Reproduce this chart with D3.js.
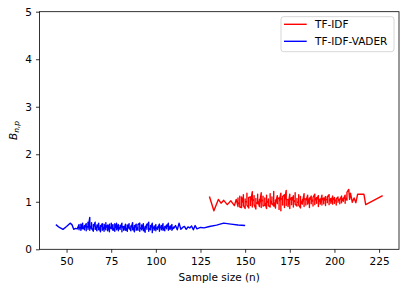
<!DOCTYPE html>
<html>
<head>
<meta charset="utf-8">
<script src="https://cdn.jsdelivr.net/npm/d3@7"></script>
<style>
  body { margin: 0; background: #fff; }
  svg { display: block; }
  text { font-family: "DejaVu Sans", sans-serif; }
</style>
</head>
<body>
<svg></svg>
<script>
const vaderN = [44, 46, 48, 50, 52, 53, 54, 55, 56,
  57, 57, 57, 58, 58, 58, 59, 59, 59, 60, 60, 60, 61, 61, 61, 62, 62, 62, 63, 63, 63,
  64, 64, 64, 65, 65, 65, 66, 66, 66, 67, 67, 67, 68, 68, 68, 69, 69, 69, 70, 70, 70,
  71, 71, 71, 72, 72, 72, 73, 73, 73, 74, 74, 74, 75, 75, 75, 76, 76, 76, 77, 77, 77,
  78, 78, 78, 79, 79, 79, 80, 80, 80, 81, 81, 81, 82, 82, 82, 83, 83, 83, 84, 84, 84,
  85, 85, 85, 86, 86, 86, 87, 87, 87, 88, 88, 88, 89, 89, 89, 90, 90, 90, 91, 91, 91,
  92, 92, 92, 93, 93, 93, 94, 94, 94, 95, 95, 95, 96, 96, 96, 97, 97, 97, 98, 98, 98,
  99, 99, 99, 100, 100, 100, 101, 101, 101, 102, 102, 102, 103, 103, 103, 104, 104, 104,
  105, 105, 105, 106, 106, 106,
  107, 107, 108, 108, 109, 109, 110, 110, 111, 112, 113, 114, 115, 116, 117, 118, 119,
  120, 121, 122, 123, 125, 127, 130, 134, 138, 142, 146, 150];
const vaderB = [0.52, 0.46, 0.42, 0.48, 0.55, 0.52, 0.42, 0.44, 0.43,
  0.52, 0.41, 0.47, 0.44, 0.53, 0.40, 0.55, 0.43, 0.49, 0.41, 0.50, 0.45, 0.54, 0.39, 0.48, 0.46, 0.57, 0.42, 0.67, 0.40, 0.50,
  0.43, 0.56, 0.45, 0.38, 0.52, 0.47, 0.57, 0.42, 0.49, 0.39, 0.51, 0.44, 0.55, 0.41, 0.48, 0.37, 0.50, 0.46, 0.54, 0.43, 0.40,
  0.48, 0.38, 0.53, 0.41, 0.56, 0.45, 0.51, 0.44, 0.39, 0.53, 0.37, 0.48, 0.43, 0.49, 0.55, 0.40, 0.52, 0.46, 0.38, 0.47, 0.54,
  0.44, 0.55, 0.41, 0.52, 0.39, 0.47, 0.42, 0.50, 0.45, 0.55, 0.37, 0.49, 0.44, 0.48, 0.40, 0.53, 0.40, 0.46, 0.38, 0.51, 0.43,
  0.54, 0.43, 0.47, 0.39, 0.49, 0.44, 0.56, 0.41, 0.48, 0.37, 0.50, 0.45, 0.53, 0.44, 0.40, 0.47, 0.40, 0.52, 0.55, 0.38, 0.46,
  0.43, 0.51, 0.41, 0.54, 0.39, 0.47, 0.36, 0.48, 0.43, 0.53, 0.42, 0.49, 0.57, 0.38, 0.45, 0.41, 0.50, 0.44, 0.55, 0.35, 0.47,
  0.43, 0.49, 0.40, 0.52, 0.39, 0.46, 0.42, 0.47, 0.44, 0.53, 0.38, 0.48, 0.44, 0.50, 0.41, 0.54, 0.40, 0.47,
  0.39, 0.48, 0.44, 0.51, 0.43, 0.46,
  0.55, 0.40, 0.49, 0.42, 0.52, 0.40, 0.47, 0.44, 0.50, 0.41, 0.55, 0.42, 0.46, 0.48, 0.42, 0.47, 0.45,
  0.49, 0.41, 0.50, 0.43, 0.46, 0.45, 0.48, 0.51, 0.55, 0.53, 0.51, 0.50];

const tfidfN = [130, 132.5, 135, 136.5, 138, 140, 142, 144, 145,
  146, 146, 146, 147, 147, 147, 148, 148, 148, 149, 149, 149, 150, 150, 150, 151, 151, 151,
  152, 152, 152, 153, 153, 153, 154, 154, 154, 155, 155, 155, 156, 156, 156, 157, 157, 157,
  158, 158, 158, 159, 159, 159, 160, 160, 160, 161, 161, 161, 162, 162, 162, 163, 163, 163,
  164, 164, 164, 165, 165, 165, 166, 166, 166, 167, 167, 167, 168, 168, 168, 169, 169, 169,
  170, 170, 170, 171, 171, 171, 172, 172, 172, 173, 173, 173, 174, 174, 174, 175, 175, 175,
  176, 176, 176, 177, 177, 177, 178, 178, 178, 179, 179, 179, 180, 180, 180, 181, 181, 181,
  182, 182, 182, 183, 183, 183, 184, 184, 184, 185, 185, 185, 186, 186, 186, 187, 187, 187,
  188, 188, 188, 189, 189, 189, 190, 190, 190, 191, 191, 191, 192, 192, 192, 193, 193, 193,
  194, 194, 194, 195, 195, 195, 196, 196, 196, 197, 197, 197, 198, 198, 198, 199, 199, 199,
  200, 200, 200, 201, 201, 201, 202, 202, 202, 203, 203, 203, 204, 204, 204, 205, 205, 205,
  206, 206, 206, 207, 207, 207,
  208, 208.5, 209, 210, 211, 212, 213, 216.5, 217.5, 227];
const tfidfB = [1.11, 0.81, 1.05, 0.97, 1.03, 0.94, 1.02, 0.92, 1.05,
  0.90, 1.08, 0.98, 0.95, 1.12, 0.89, 0.88, 1.04, 1.10, 0.97, 1.15, 0.92, 0.86, 1.06, 1.01, 0.99, 1.18, 0.93,
  0.87, 1.03, 1.09, 1.10, 0.92, 1.00, 1.21, 0.89, 1.05, 1.02, 1.13, 0.94, 0.85, 1.07, 0.99, 0.96, 1.16, 1.03,
  0.90, 1.05, 0.95, 1.19, 0.88, 1.04, 1.01, 1.12, 0.91, 0.93, 1.08, 0.99, 0.86, 1.14, 1.02, 0.98, 1.06, 0.92,
  0.89, 1.17, 1.03, 0.95, 1.10, 0.97, 0.91, 1.22, 1.00, 0.87, 1.04, 0.96, 1.13, 0.96, 1.06, 1.08, 0.84, 1.00,
  1.18, 0.81, 1.05, 1.07, 0.93, 1.11, 1.15, 0.88, 1.02, 1.24, 0.92, 1.04, 1.05, 0.97, 0.90, 1.16, 0.86, 1.03,
  1.09, 0.94, 1.01, 1.13, 0.89, 0.99, 1.03, 1.19, 0.95, 0.91, 1.07, 1.00, 0.98, 1.15, 0.93, 0.87, 1.11, 1.02,
  0.95, 1.04, 0.97, 1.17, 0.90, 1.06, 1.06, 0.93, 1.01, 1.14, 0.99, 0.95, 1.08, 0.88, 1.03, 1.12, 0.96, 1.00,
  1.05, 0.91, 1.09, 1.16, 0.94, 1.02, 1.09, 0.97, 1.04, 1.13, 0.90, 0.99, 1.06, 1.00, 0.95, 1.14, 0.93, 1.03,
  1.08, 0.96, 1.01, 1.11, 0.92, 1.04, 1.05, 0.98, 1.10, 1.15, 0.94, 1.00, 1.07, 1.00, 0.97, 1.12, 0.95, 1.03,
  1.09, 0.97, 1.01, 1.04, 0.93, 1.06, 1.10, 0.99, 1.02, 1.06, 0.96, 1.04, 1.12, 0.98, 1.01, 1.08, 1.01, 1.05,
  1.14, 0.97, 1.03, 1.09, 1.03, 1.20,
  1.26, 1.05, 1.18, 0.99, 1.08, 0.98, 1.16, 1.16, 0.94, 1.13];

const seriesNames = ["TF-IDF", "TF-IDF-VADER"];
const seriesColors = ["#ff0000", "#0000ff"];
const yTicks = [0, 1, 2, 3, 4, 5];
const xTicks = [50, 75, 100, 125, 150, 175, 200, 225];

const width = 407, height = 290;
const margin = {top: 11.7, right: 8, bottom: 40.7, left: 39.5};
const fs = 10.5;

const svg = d3.select("svg").attr("width", width).attr("height", height);

const series = [
  {name: seriesNames[0], color: seriesColors[0], pts: tfidfN.map((n, i) => [n, tfidfB[i]])},
  {name: seriesNames[1], color: seriesColors[1], pts: vaderN.map((n, i) => [n, vaderB[i]])}
];

// matplotlib style 5% padding on x
const [nMin, nMax] = d3.extent(vaderN.concat(tfidfN));
const pad = (nMax - nMin) * 0.05;

const x = d3.scaleLinear().domain([nMin - pad, nMax + pad]).range([margin.left, width - margin.right]);
const y = d3.scaleLinear().domain([0, 5]).range([height - margin.bottom, margin.top]);

const line = d3.line().x(d => x(d[0])).y(d => y(d[1]));

svg.append("g")
  .selectAll("path")
  .data(series)
  .join("path")
    .attr("fill", "none")
    .attr("stroke", d => d.color)
    .attr("stroke-width", 1.4)
    .attr("stroke-linejoin", "round")
    .attr("d", d => line(d.pts));

// frame
svg.append("rect")
  .attr("x", margin.left).attr("y", margin.top)
  .attr("width", width - margin.left - margin.right)
  .attr("height", height - margin.top - margin.bottom)
  .attr("fill", "none").attr("stroke", "#000").attr("stroke-width", 0.8);

const xAxis = svg.append("g")
  .attr("transform", `translate(0,${height - margin.bottom})`)
  .call(d3.axisBottom(x).tickValues(xTicks).tickSize(3.5).tickPadding(4.5).tickFormat(d3.format("d")));
const yAxis = svg.append("g")
  .attr("transform", `translate(${margin.left},0)`)
  .call(d3.axisLeft(y).tickValues(yTicks).tickSize(3.5).tickPadding(4).tickFormat(d3.format("d")));

[xAxis, yAxis].forEach(g => {
  g.select(".domain").remove();
  g.selectAll("line").attr("stroke", "#000").attr("stroke-width", 0.8);
  g.selectAll("text").attr("fill", "#000").attr("font-size", fs)
    .attr("font-family", "DejaVu Sans, sans-serif");
});

svg.append("text")
  .attr("x", (margin.left + width - margin.right) / 2)
  .attr("y", 281)
  .attr("text-anchor", "middle")
  .attr("font-size", fs)
  .text("Sample size (n)");

const yl = svg.append("text")
  .attr("transform", `translate(16.5,${(margin.top + height - margin.bottom) / 2}) rotate(-90)`)
  .attr("text-anchor", "middle")
  .attr("font-size", fs)
  .attr("font-style", "italic");
yl.append("tspan").text("B");
yl.append("tspan").attr("font-size", 7.5).attr("dy", 2.5).text("n,p");

// legend
const lg = svg.append("g").attr("transform", "translate(281,16.7)");
lg.append("rect")
  .attr("width", 113).attr("height", 35).attr("rx", 2.5)
  .attr("fill", "#fff").attr("fill-opacity", 0.8)
  .attr("stroke", "#ccc").attr("stroke-width", 0.8);
const items = lg.selectAll("g.item").data(series).join("g")
  .attr("transform", (d, i) => `translate(0,${7.6 + i * 17})`);
items.append("line")
  .attr("x1", 3).attr("x2", 25.7)
  .attr("stroke", d => d.color).attr("stroke-width", 1.4);
items.append("text")
  .attr("x", 34).attr("dy", "0.35em")
  .attr("font-size", fs)
  .text(d => d.name);
</script>
</body>
</html>
